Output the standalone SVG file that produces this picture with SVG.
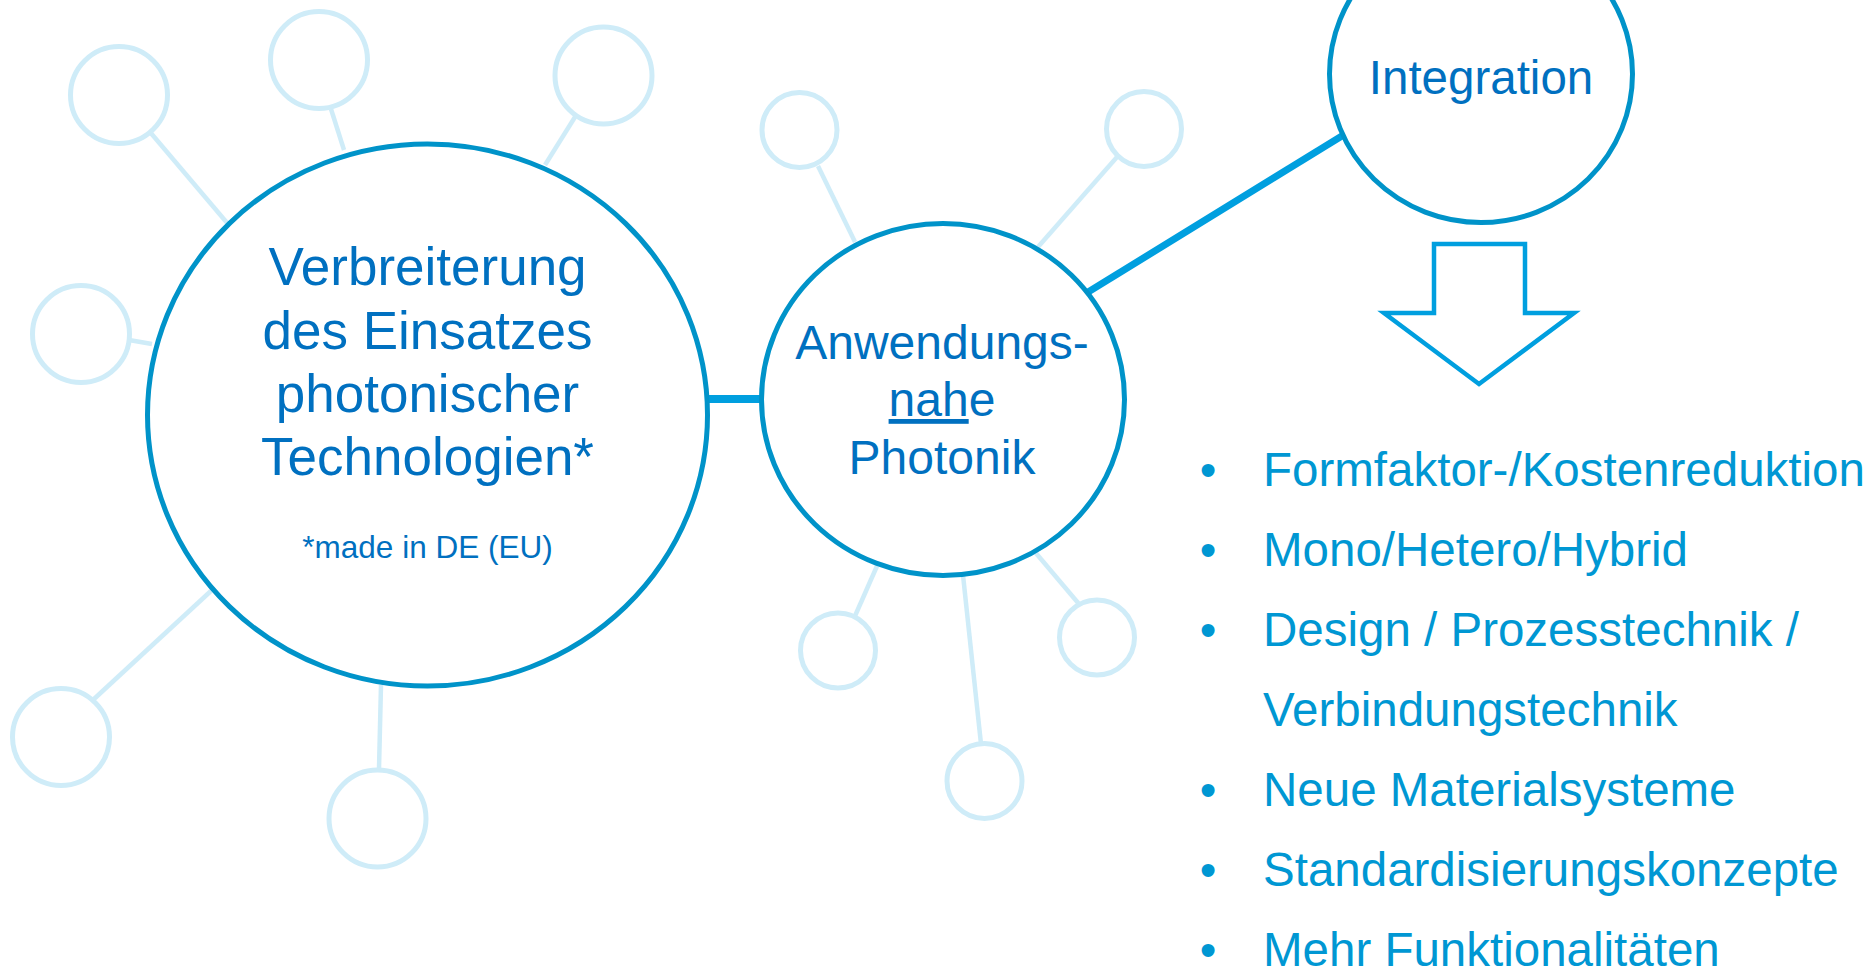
<svg xmlns="http://www.w3.org/2000/svg" width="1873" height="967" viewBox="0 0 1873 967">
  <style>
    .spoke { stroke: #CFECF8; stroke-width: 4.5; fill: none; stroke-linecap: butt; }
    .sat { stroke: #CFECF8; stroke-width: 5; fill: #FFFFFF; }
    .hub { stroke: #0093C9; stroke-width: 5; fill: #FFFFFF; }
    .link { stroke: #009FDF; fill: none; }
    .label { font-family: "Liberation Sans", Arial, sans-serif; fill: #0070C0; text-anchor: middle; }
    .item { font-family: "Liberation Sans", Arial, sans-serif; fill: #0097D3; font-size: 47.5px; }
  </style>
  <rect width="1873" height="967" fill="#FFFFFF"/>

  <!-- spokes to the satellite circles -->
  <g id="connectors">
    <line class="spoke" x1="150" y1="132" x2="228" y2="224"/>
    <line class="spoke" x1="331" y1="109" x2="344" y2="150"/>
    <line class="spoke" x1="575" y1="117" x2="545" y2="165"/>
    <line class="spoke" x1="129" y1="340" x2="152" y2="344"/>
    <line class="spoke" x1="94" y1="699" x2="212" y2="590"/>
    <line class="spoke" x1="379" y1="769" x2="381" y2="685"/>
    <line class="spoke" x1="818" y1="166" x2="855" y2="242"/>
    <line class="spoke" x1="1117" y1="157" x2="1038" y2="247"/>
    <line class="spoke" x1="855" y1="616" x2="877" y2="566"/>
    <line class="spoke" x1="981" y1="744" x2="963" y2="575"/>
    <line class="spoke" x1="1079" y1="604" x2="1035" y2="552"/>
    <!-- main links between the hubs -->
    <line class="link" stroke-width="8" x1="700" y1="399" x2="770" y2="399"/>
    <line class="link" stroke-width="7" x1="1080" y1="297" x2="1350" y2="131"/>
  </g>

  <!-- satellite circles -->
  <g id="sat-1"><circle class="sat" cx="119" cy="95" r="48.5"/></g>
  <g id="sat-2"><circle class="sat" cx="319" cy="60" r="48.5"/></g>
  <g id="sat-3"><circle class="sat" cx="603.5" cy="75.5" r="48.5"/></g>
  <g id="sat-4"><circle class="sat" cx="81" cy="334" r="48.5"/></g>
  <g id="sat-5"><circle class="sat" cx="61" cy="737" r="48.5"/></g>
  <g id="sat-6"><circle class="sat" cx="377.5" cy="818.5" r="48.5"/></g>
  <g id="sat-7"><circle class="sat" cx="799.5" cy="130" r="37.5"/></g>
  <g id="sat-8"><circle class="sat" cx="1144" cy="129" r="37.5"/></g>
  <g id="sat-9"><circle class="sat" cx="838" cy="650.5" r="37.5"/></g>
  <g id="sat-10"><circle class="sat" cx="984.5" cy="781" r="37.5"/></g>
  <g id="sat-11"><circle class="sat" cx="1097" cy="637.5" r="37.5"/></g>

  <!-- hub: Verbreiterung -->
  <g id="node-verbreiterung">
    <ellipse class="hub" cx="427.5" cy="415" rx="280" ry="271"/>
    <text class="label" font-size="53" x="427.5" y="285">Verbreiterung</text>
    <text class="label" font-size="53" x="427.5" y="348.5">des Einsatzes</text>
    <text class="label" font-size="53" x="427.5" y="412">photonischer</text>
    <text class="label" font-size="53" x="427.5" y="475">Technologien*</text>
    <text class="label" font-size="31.5" x="427.5" y="557.5">*made in DE (EU)</text>
  </g>

  <!-- hub: Anwendungsnahe Photonik -->
  <g id="node-anwendungsnahe">
    <ellipse class="hub" cx="943" cy="399.5" rx="181.5" ry="176"/>
    <text class="label" font-size="48" x="942" y="359">Anwendungs-</text>
    <text class="label" font-size="48" x="942" y="416"><tspan text-decoration="underline">nah</tspan>e</text>
    <text class="label" font-size="48" x="942" y="474">Photonik</text>
  </g>

  <!-- hub: Integration -->
  <g id="node-integration">
    <ellipse class="hub" cx="1481" cy="74" rx="151.5" ry="148.5"/>
    <text class="label" font-size="47.5" x="1481" y="93.5">Integration</text>
  </g>

  <!-- hollow down arrow -->
  <g id="arrow-down">
    <polygon points="1434,244 1525,244 1525,313 1574,313 1479,384 1384,313 1434,313" fill="#FFFFFF" stroke="#009FDF" stroke-width="4.5" stroke-linejoin="miter"/>
  </g>

  <!-- list of integration topics -->
  <g id="topic-list">
    <text class="item" x="1208" y="485.5" text-anchor="middle">•</text>
    <text class="item" x="1263" y="485.5">Formfaktor-/Kostenreduktion</text>
    <text class="item" x="1208" y="565.5" text-anchor="middle">•</text>
    <text class="item" x="1263" y="565.5">Mono/Hetero/Hybrid</text>
    <text class="item" x="1208" y="645.5" text-anchor="middle">•</text>
    <text class="item" x="1263" y="645.5">Design / Prozesstechnik /</text>
    <text class="item" x="1263" y="725.5">Verbindungstechnik</text>
    <text class="item" x="1208" y="805.5" text-anchor="middle">•</text>
    <text class="item" x="1263" y="805.5">Neue Materialsysteme</text>
    <text class="item" x="1208" y="885.5" text-anchor="middle">•</text>
    <text class="item" x="1263" y="885.5">Standardisierungskonzepte</text>
    <text class="item" x="1208" y="965.5" text-anchor="middle">•</text>
    <text class="item" x="1263" y="965.5">Mehr Funktionalitäten</text>
  </g>
</svg>
